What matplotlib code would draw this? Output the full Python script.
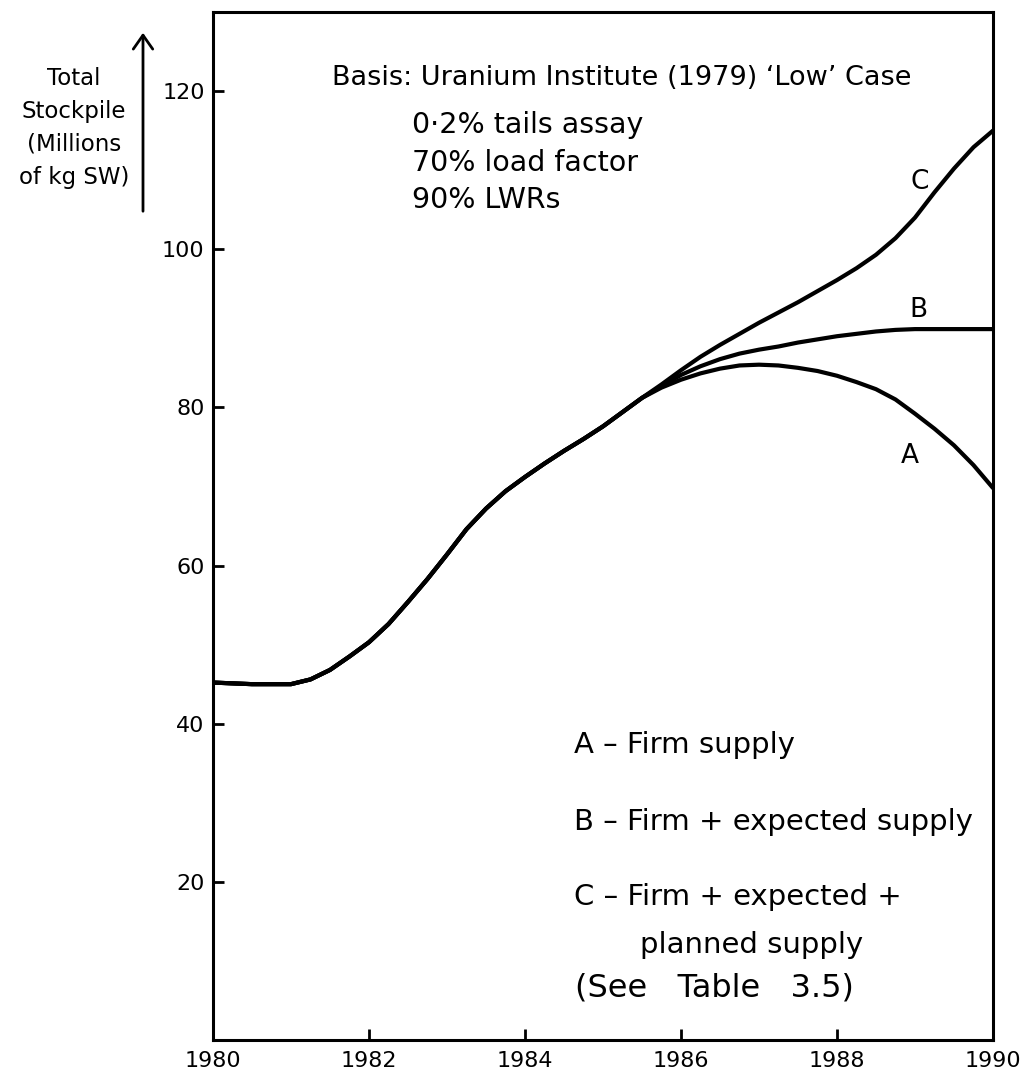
import matplotlib
matplotlib.use("Agg")
import matplotlib.pyplot as plt

# ---- data ----
common_years = [1980.0, 1980.5, 1981.0, 1981.25, 1981.5, 1981.75, 1982.0, 1982.25,
                1982.5, 1982.75, 1983.0, 1983.25, 1983.5, 1983.75, 1984.0, 1984.25,
                1984.5, 1984.75, 1985.0, 1985.25, 1985.5]
common_vals = [45.2, 45.0, 45.0, 45.6, 46.8, 48.5, 50.3, 52.6,
               55.4, 58.3, 61.4, 64.6, 67.2, 69.4, 71.2, 72.9,
               74.5, 76.0, 77.6, 79.4, 81.2]

branch_years = [1985.75, 1986.0, 1986.25, 1986.5, 1986.75, 1987.0, 1987.25, 1987.5,
                1987.75, 1988.0, 1988.25, 1988.5, 1988.75, 1989.0, 1989.25, 1989.5,
                1989.75, 1990.0]
a_vals = [82.5, 83.5, 84.3, 84.9, 85.3, 85.4, 85.3, 85.0,
          84.6, 84.0, 83.2, 82.3, 81.0, 79.2, 77.3, 75.2, 72.7, 69.8]
b_vals = [82.7, 84.1, 85.2, 86.1, 86.8, 87.3, 87.7, 88.2,
          88.6, 89.0, 89.3, 89.6, 89.8, 89.9, 89.9, 89.9, 89.9, 89.9]
c_vals = [82.9, 84.7, 86.4, 87.9, 89.3, 90.7, 92.0, 93.3,
          94.7, 96.1, 97.6, 99.3, 101.4, 104.0, 107.2, 110.2, 112.9, 115.0]

curve_labels = ["A", "B", "C"]
x_ticks = [1980, 1982, 1984, 1986, 1988, 1990]
y_ticks = [20, 40, 60, 80, 100, 120]

basis_lines = ["Basis: Uranium Institute (1979) \u2018Low\u2019 Case",
               "0\u00b72% tails assay", "70% load factor", "90% LWRs"]
legend_lines = ["A \u2013 Firm supply", "B \u2013 Firm + expected supply",
                "C \u2013 Firm + expected +"]

plt.rcParams['font.family'] = ['DejaVu Sans']

W, H = 1021, 1089
fig = plt.figure(figsize=(W / 100, H / 100), dpi=100)
ax = fig.add_axes([213 / W, 1 - 1040 / H, (993 - 213) / W, (1040 - 12) / H])

ax.set_xlim(1980, 1990)
ax.set_ylim(0, 130)

lw = 3.0
for vals in (a_vals, b_vals, c_vals):
    ax.plot(common_years + branch_years, common_vals + vals, color='black',
            lw=lw, solid_capstyle='round', solid_joinstyle='round')

for s in ax.spines.values():
    s.set_linewidth(2.2)
ax.set_xticks(x_ticks)
ax.set_xticklabels([str(t) for t in x_ticks], fontsize=16)
ax.set_yticks(y_ticks)
ax.set_yticklabels([str(t) for t in y_ticks], fontsize=16)
ax.tick_params(axis='both', direction='in', length=8, width=2, pad=8)
ax.tick_params(axis='y', pad=6)

def px(x, y):
    return x / W, 1 - y / H

# curve labels
for lab, (x, y) in zip(curve_labels, [(910, 456), (918, 310), (920, 182)]):
    fig.text(*px(x, y), lab, fontsize=19, ha='center', va='center')

# basis annotation
fig.text(*px(332, 78), basis_lines[0], fontsize=19.5, ha='left', va='center')
for line, y in zip(basis_lines[1:], [125, 163, 200]):
    fig.text(*px(412, y), line, fontsize=20.5, ha='left', va='center')

# legend block
for line, y in zip(legend_lines, [745, 822, 897]):
    fig.text(*px(574, y), line, fontsize=21, ha='left', va='center')
fig.text(*px(752, 945), "planned supply", fontsize=21, ha='center', va='center')
fig.text(*px(714, 988), "(See   Table   3.5)", fontsize=23, ha='center', va='center')

# y axis title with arrow
fig.text(*px(74, 128), "Total\nStockpile\n(Millions\nof kg SW)", fontsize=16.5,
         ha='center', va='center', linespacing=1.55)
fig.add_artist(matplotlib.patches.FancyArrowPatch(
    px(143, 214), px(143, 30), transform=fig.transFigure,
    arrowstyle='->,head_length=10,head_width=7', lw=2, color='black'))

fig.savefig("out.png", dpi=100, facecolor='white')
